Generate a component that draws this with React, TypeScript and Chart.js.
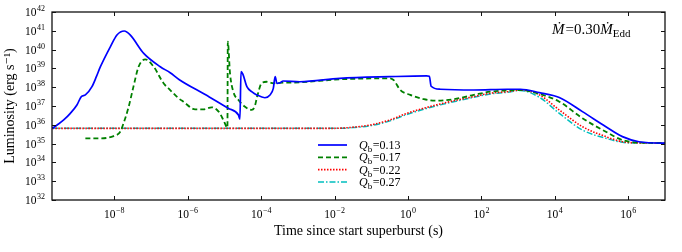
import React, { useEffect, useRef } from "react";
import { Chart, registerables } from "chart.js";

Chart.register(...registerables);

// ---- data (log10 of time in s, log10 of luminosity in erg/s) ----
const qbValues = ["0.13", "0.17", "0.22", "0.27"];

const blueLogT = [-9.69, -9.56, -9.38, -9.2, -9.02, -8.9, -8.79, -8.61, -8.49, -8.38, -8.11, -7.93, -7.73, -7.57, -7.2, -6.75, -6.48, -6.23, -5.5, -4.9, -4.62, -4.58, -4.55, -4.5, -4.39, -4.25, -4.12, -3.9, -3.76, -3.67, -3.62, -3.57, -3.5, -3.4, -2.95, -1.86, -0.5, 0.5, 0.58, 0.63, 0.88, 1.79, 2.7, 3.06, 3.58, 4.12, 4.75, 5.39, 5.84, 6.29, 6.93, 7.0];
const blueLogL = [35.81, 35.99, 36.26, 36.61, 37.05, 37.5, 37.59, 38.03, 38.56, 39.09, 40.15, 40.78, 40.99, 40.78, 39.8, 39.09, 38.77, 38.4, 37.58, 36.88, 36.52, 36.3, 38.83, 38.7, 38.03, 37.75, 37.59, 37.44, 37.59, 37.94, 38.56, 38.2, 38.22, 38.33, 38.29, 38.47, 38.56, 38.6, 38.58, 38.05, 37.89, 37.85, 37.89, 37.89, 37.71, 37.45, 36.7, 35.9, 35.37, 35.1, 35.03, 35.03];

const greenLogT = [-8.79, -8.38, -8.02, -7.84, -7.75, -7.61, -7.48, -7.34, -7.16, -6.93, -6.66, -6.48, -6.25, -6.12, -5.8, -5.57, -5.35, -5.16, -5.03, -4.92, -4.91, -4.85, -4.76, -4.62, -4.44, -4.26, -4.18, -4.11, -3.99, -3.85, -3.67, -3.4, -2.95, -1.86, -0.5, -0.45, -0.39, -0.21, 0.06, 0.43, 0.79, 1.24, 1.79, 2.24, 3.06, 3.58, 4.12, 4.75, 5.39, 5.84, 6.29, 7.0];
const greenLogL = [35.28, 35.28, 35.4, 35.63, 36.08, 36.96, 38.03, 39.09, 39.48, 39.09, 38.21, 37.85, 37.41, 37.23, 36.82, 36.82, 36.93, 36.7, 36.26, 35.85, 40.42, 38.74, 37.76, 37.32, 36.96, 36.79, 36.95, 37.5, 38.21, 38.29, 38.21, 38.24, 38.26, 38.42, 38.47, 38.45, 38.38, 37.85, 37.59, 37.36, 37.28, 37.36, 37.59, 37.76, 37.85, 37.64, 37.23, 36.35, 35.63, 35.19, 35.05, 35.03];

const rcLogT = [-9.69, -2.2, -1.86, -1.45, -1.03, -0.49, -0.03, 0.43, 0.88, 1.34, 1.79, 2.24, 2.7, 3.06, 3.58, 4.12, 4.75, 5.39, 5.84, 6.29, 7.0];
const redLogL = [35.81, 35.81, 35.82, 35.88, 35.99, 36.26, 36.61, 36.88, 37.11, 37.32, 37.5, 37.68, 37.76, 37.85, 37.59, 36.79, 35.9, 35.37, 35.1, 35.04, 35.03];
const cyanLogL = [35.81, 35.81, 35.81, 35.86, 35.95, 36.21, 36.55, 36.83, 37.06, 37.27, 37.46, 37.64, 37.73, 37.83, 37.46, 36.61, 35.72, 35.28, 35.07, 35.03, 35.03];

const xTickExponents = [-8, -6, -4, -2, 0, 2, 4, 6];
const yTickExponents = [32, 33, 34, 35, 36, 37, 38, 39, 40, 41, 42];

const FONT = "'Liberation Serif', 'DejaVu Serif', serif";
const BASE_FONT = `11.5px ${FONT}`;
const EXP_FONT = `8px ${FONT}`;

const toPoints = (lt: number[], ll: number[]) =>
  lt.map((t, i) => ({ x: Math.pow(10, t), y: Math.pow(10, ll[i]) }));

const expOf = (v: number) => String(Math.round(Math.log10(v))).replace("-", "\u2212");

// measures "10" + superscript exponent
function powWidth(ctx: CanvasRenderingContext2D, e: string) {
  ctx.font = BASE_FONT;
  const w1 = ctx.measureText("10").width;
  ctx.font = EXP_FONT;
  const w2 = ctx.measureText(e).width;
  return [w1, w2];
}
function drawPow(ctx: CanvasRenderingContext2D, e: string, x: number, baseline: number) {
  const [w1] = powWidth(ctx, e);
  ctx.font = BASE_FONT;
  ctx.fillText("10", x, baseline);
  ctx.font = EXP_FONT;
  ctx.fillText(e, x + w1 + 0.5, baseline - 5);
}

const framePlugin = {
  id: "frameTicks",
  afterDraw(chart: any) {
    const { ctx, chartArea: a, scales } = chart;
    ctx.save();
    ctx.strokeStyle = "#111";
    ctx.lineWidth = 1.3;
    ctx.strokeRect(a.left, a.top, a.right - a.left, a.bottom - a.top);
    ctx.lineWidth = 1;
    const tl = 4;
    ctx.beginPath();
    for (const t of scales.x.ticks) {
      const p = Math.round(scales.x.getPixelForValue(t.value)) + 0.5;
      ctx.moveTo(p, a.bottom); ctx.lineTo(p, a.bottom - tl);
      ctx.moveTo(p, a.top); ctx.lineTo(p, a.top + tl);
    }
    for (const t of scales.y.ticks) {
      const p = Math.round(scales.y.getPixelForValue(t.value)) + 0.5;
      ctx.moveTo(a.left, p); ctx.lineTo(a.left + tl, p);
      ctx.moveTo(a.right, p); ctx.lineTo(a.right - tl, p);
    }
    ctx.stroke();

    // tick labels: 10 with superscript exponent
    ctx.fillStyle = "#000";
    ctx.textBaseline = "alphabetic";
    ctx.textAlign = "left";
    for (const t of scales.x.ticks) {
      const p = scales.x.getPixelForValue(t.value);
      const e = expOf(t.value);
      const [w1, w2] = powWidth(ctx, e);
      drawPow(ctx, e, p - (w1 + w2 + 0.5) / 2, a.bottom + 18);
    }
    for (const t of scales.y.ticks) {
      const p = scales.y.getPixelForValue(t.value);
      const e = expOf(t.value);
      const [w1, w2] = powWidth(ctx, e);
      drawPow(ctx, e, a.left - 7 - (w1 + w2 + 0.5), p + 4);
    }

    // legend
    const lx = a.left + 266;
    let ly = a.top + 133;
    for (const ds of chart.data.datasets) {
      ctx.beginPath();
      ctx.strokeStyle = ds.borderColor;
      ctx.lineWidth = ds.borderWidth;
      ctx.setLineDash(ds.borderDash || []);
      ctx.moveTo(lx, ly); ctx.lineTo(lx + 29, ly);
      ctx.stroke();
      ctx.setLineDash([]);
      const val = String(ds.label).split("=")[1];
      let tx = lx + 41;
      const base = ly + 4;
      ctx.fillStyle = "#000";
      ctx.font = `italic 12px ${FONT}`;
      ctx.fillText("Q", tx, base);
      tx += ctx.measureText("Q").width;
      ctx.font = `9px ${FONT}`;
      ctx.fillText("b", tx, base + 3);
      tx += ctx.measureText("b").width + 0.5;
      ctx.font = `12px ${FONT}`;
      ctx.fillText("=" + val, tx, base);
      ly += 12.3;
    }

    // annotation
    let ax = a.left + 500;
    const ab = a.top + 22;
    ctx.fillStyle = "#000";
    ctx.font = `italic 15px ${FONT}`;
    ctx.fillText("Ṁ", ax, ab);
    ax += ctx.measureText("Ṁ").width + 1;
    ctx.font = `15px ${FONT}`;
    ctx.fillText("=0.30", ax, ab);
    ax += ctx.measureText("=0.30").width;
    ctx.font = `italic 15px ${FONT}`;
    ctx.fillText("Ṁ", ax, ab);
    ax += ctx.measureText("Ṁ").width;
    ctx.font = `11px ${FONT}`;
    ctx.fillText("Edd", ax, ab + 3);
    ctx.restore();
  },
};

export default function App() {
  const ref = useRef<HTMLCanvasElement | null>(null);
  useEffect(() => {
    if (!ref.current) return;
    const chart = new Chart(ref.current, {
      type: "line",
      data: {
        datasets: [
          { label: `Qb=${qbValues[0]}`, data: toPoints(blueLogT, blueLogL), borderColor: "#0000ff", borderWidth: 1.7, borderDash: [] },
          { label: `Qb=${qbValues[1]}`, data: toPoints(greenLogT, greenLogL), borderColor: "#008000", borderWidth: 1.8, borderDash: [5, 3] },
          { label: `Qb=${qbValues[2]}`, data: toPoints(rcLogT, redLogL), borderColor: "#ff0000", borderWidth: 1.6, borderDash: [1.5, 1.5] },
          { label: `Qb=${qbValues[3]}`, data: toPoints(rcLogT, cyanLogL), borderColor: "#00bfbf", borderWidth: 1.5, borderDash: [6, 2, 1.5, 2] },
        ].map((d) => ({ ...d, pointRadius: 0, fill: false, cubicInterpolationMode: "monotone" as const })),
      },
      options: {
        animation: false,
        responsive: false,
        layout: { padding: { top: 12, right: 17, left: 0, bottom: 0 } },
        plugins: { legend: { display: false }, tooltip: { enabled: false } },
        scales: {
          x: {
            type: "logarithmic",
            min: 2e-10,
            max: 1e7,
            grid: { display: false, drawTicks: false },
            border: { display: false },
            afterBuildTicks: (s: any) => {
              s.ticks = xTickExponents.map((e) => ({ value: Math.pow(10, e) }));
            },
            afterFit: (s: any) => { s.height = 52; },
            ticks: { display: false, autoSkip: false },
            title: {
              display: true, text: "Time since start superburst (s)", color: "#000",
              font: { family: FONT, size: 14 }, padding: { top: 0, bottom: 12 },
            },
          },
          y: {
            type: "logarithmic",
            min: 1e32,
            max: 1e42,
            grid: { display: false, drawTicks: false },
            border: { display: false },
            afterBuildTicks: (s: any) => {
              s.ticks = yTickExponents.map((e) => ({ value: Math.pow(10, e) }));
            },
            afterFit: (s: any) => { s.width = 52; },
            ticks: { display: false, autoSkip: false },
            title: {
              display: true, text: "Luminosity (erg s⁻¹)", color: "#000",
              font: { family: FONT, size: 14 }, padding: { top: 2, bottom: 0 },
            },
          },
        },
      },
      plugins: [framePlugin],
    });
    return () => chart.destroy();
  }, []);
  return (
    <div style={{ position: "absolute", left: 0, top: 0, width: 682, height: 252, background: "#fff" }}>
      <canvas ref={ref} width={682} height={252} style={{ width: 682, height: 252 }} />
    </div>
  );
}
